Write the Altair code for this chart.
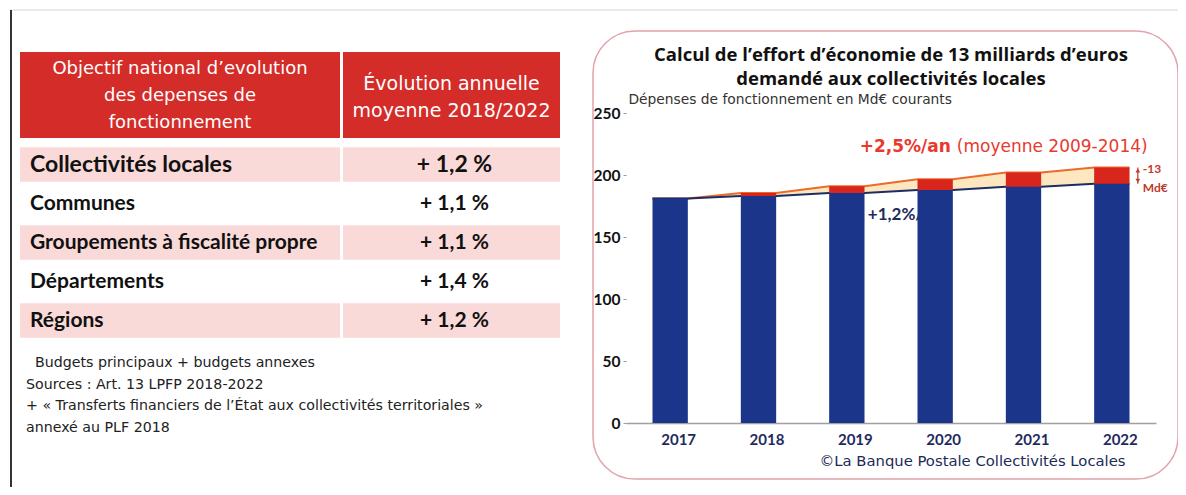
import altair as alt
import pandas as pd

# ---------------- data ----------------
years = [2017, 2018, 2019, 2020, 2021, 2022]
trend_12 = [181, 183, 185.5, 188, 190.5, 193]      # +1,2 %/an (blue bars)
trend_25 = [181, 185.5, 191, 196.5, 202, 206]      # +2,5 %/an (top of red part)
y_ticks = [0, 50, 100, 150, 200, 250]

table_rows = ["Collectivités locales", "Communes", "Groupements à fiscalité propre",
              "Départements", "Régions"]
table_values = ["+ 1,2 %", "+ 1,1 %", "+ 1,1 %", "+ 1,4 %", "+ 1,2 %"]
header_left = ["Objectif national d’evolution", "des depenses de", "fonctionnement"]
header_right = ["Évolution annuelle", "moyenne 2018/2022"]
notes = ["Budgets principaux + budgets annexes",
         "Sources : Art. 13 LPFP 2018-2022",
         "+ « Transferts financiers de l’État aux collectivités territoriales »",
         "annexé au PLF 2018"]

title_lines = ["Calcul de l’effort d’économie de 13 milliards d’euros",
               "demandé aux collectivités locales"]
y_title = "Dépenses de fonctionnement en Md€ courants"
source = "©La Banque Postale Collectivités Locales"
label_25_bold = "+2,5%/an"
label_25_rest = "(moyenne 2009-2014)"
label_12 = "+1,2%/an"
unit_label = "Md€"

# ---------------- layout / style ----------------
W, H = 530, 310
BAR_W = 0.4
FONT = "Lato"
WIDE = "DejaVu Sans"
NAVY = "#1b358a"
NAVY_LINE = "#1b2d63"
RED = "#d8261d"
ORANGE = "#ee6a2a"
CREAM = "#fde7c0"
ANN_RED = "#e8392e"
HEAD_RED = "#d42c28"
PINK = "#f9dad8"
FRAME = "#e4a2ab"

LBL_RANGE = [-606, -286]
VAL_RANGE = [-283, -66]
HEAD_RANGE = [-61, 25]
BODY_RANGE = [32, 227]
NOTES_RANGE = [250, 315]

bars = pd.DataFrame({"year": years, "blue": trend_12, "total": trend_25})
bars["x0"] = bars["year"] - BAR_W / 2
bars["x1"] = bars["year"] + BAR_W / 2
pts = pd.concat([bars.assign(x=bars["x0"]), bars.assign(x=bars["x1"])]).sort_values("x")
last = bars.tail(1)
y2019 = bars[bars["year"] == 2019]

xs = alt.Scale(domain=[2016.5, 2022.5], nice=False, zero=False)
ys = alt.Scale(domain=[0, 250], nice=False, zero=True)

x_axis = alt.Axis(values=years, format="d", labelFont=FONT, labelFontSize=15,
                  labelFontWeight="bold", labelColor="#1f2b5e", labelPadding=9,
                  labelOffset=8, ticks=False, domainColor="#a0a0a0", domainWidth=1.5,
                  grid=False, title=source, titleFont=WIDE, titleFontSize=14.8,
                  titleFontWeight="normal", titleColor="#1d2a55", titleX=346, titleY=38,
                  titleAlign="center", titleBaseline="middle")
y_axis = alt.Axis(values=y_ticks, labelFont=FONT, labelFontSize=15.5, labelFontWeight="bold",
                  labelColor="#111111", labelPadding=3, tickSize=3, tickColor="#999999",
                  domain=False, gridColor="#e0e0e0", title=y_title, titleAngle=0,
                  titleAlign="left", titleBaseline="middle", titleX=2, titleY=-14,
                  titleFont=WIDE, titleFontSize=13.8, titleFontWeight="normal",
                  titleColor="#333333")

dummy = pd.DataFrame({"k": [0]})

# decorations
frame = alt.Chart(dummy).mark_rect(fillOpacity=0, stroke=FRAME, strokeWidth=1.5,
                                   cornerRadius=42).encode(
    x=alt.value(-33), x2=alt.value(552), y=alt.value(-82), y2=alt.value(366))
left_border = alt.Chart(dummy).mark_rule(color="#333333", strokeWidth=2).encode(
    x=alt.value(-615), y=alt.value(-103), y2=alt.value(374))
top_border = alt.Chart(dummy).mark_rule(color="#d6d6d6", strokeWidth=1).encode(
    x=alt.value(-615), x2=alt.value(552), y=alt.value(-103))

title = alt.Chart(dummy).mark_text(font="Open Sans", fontSize=18.5, fontWeight="bold",
                                   color="#111111", lineHeight=24, align="center",
                                   baseline="middle").encode(
    x=alt.value(W / 2), y=alt.value(-58), text=alt.value(title_lines))

# chart layers
X = lambda f: alt.X(f, scale=xs, axis=None)
area = alt.Chart(pts).mark_area(color=CREAM).encode(
    x=X("x:Q"), y=alt.Y("blue:Q", scale=ys, axis=None), y2="total:Q")
line_top = alt.Chart(pts).mark_line(color=ORANGE, strokeWidth=2).encode(
    x=X("x:Q"), y=alt.Y("total:Q", scale=ys, axis=None))
line_bot = alt.Chart(pts).mark_line(color=NAVY_LINE, strokeWidth=2).encode(
    x=X("x:Q"), y=alt.Y("blue:Q", scale=ys, axis=None))
txt12 = alt.Chart(y2019).mark_text(font=FONT, fontSize=17, fontWeight="bold", color="#1d2b5e",
                                   align="left", baseline="middle", dx=21, dy=22).encode(
    x=X("year:Q"), y=alt.Y("blue:Q", scale=ys, axis=None), text=alt.value(label_12))
bar_blue = alt.Chart(bars).mark_rect(color=NAVY).encode(
    x=alt.X("x0:Q", scale=xs, axis=x_axis), x2="x1:Q",
    y=alt.Y("blue:Q", scale=ys, axis=y_axis), y2=alt.datum(0))
bar_red = alt.Chart(bars).transform_filter("datum.total > datum.blue").mark_rect(color=RED).encode(
    x=X("x0:Q"), x2="x1:Q", y=alt.Y("blue:Q", scale=ys, axis=None), y2="total:Q")

txt25a = alt.Chart(last).mark_text(font=WIDE, fontSize=17, fontWeight="bold", color=ANN_RED,
                                   align="right", baseline="middle", dx=-161, dy=-21).encode(
    x=X("year:Q"), y=alt.Y("total:Q", scale=ys, axis=None), text=alt.value(label_25_bold))
txt25b = alt.Chart(last).mark_text(font=WIDE, fontSize=17, color=ANN_RED,
                                   align="left", baseline="middle", dx=-155, dy=-21).encode(
    x=X("year:Q"), y=alt.Y("total:Q", scale=ys, axis=None), text=alt.value(label_25_rest))
gap_txt = alt.Chart(last).transform_calculate(
    t="'-' + format(datum.total - datum.blue, '.0f')").mark_text(
    font=FONT, fontSize=12, fontWeight="bold", color="#c0392b", align="left",
    baseline="middle", dx=31, dy=1).encode(
    x=X("year:Q"), y=alt.Y("total:Q", scale=ys, axis=None), text="t:N")
unit_txt = alt.Chart(last).mark_text(font=FONT, fontSize=12, fontWeight="bold", color="#c0392b",
                                     align="left", baseline="middle", dx=31, dy=4).encode(
    x=X("year:Q"), y=alt.Y("blue:Q", scale=ys, axis=None), text=alt.value(unit_label))
arrow = alt.Chart(last).mark_rule(color="#c0392b", strokeWidth=1.2, xOffset=26).encode(
    x=X("year:Q"), y=alt.Y("total:Q", scale=ys, axis=None), y2="blue:Q")
head_up = alt.Chart(last).mark_point(shape="triangle-up", filled=True, size=22, color="#c0392b",
                                     opacity=1, xOffset=26, yOffset=3).encode(
    x=X("year:Q"), y=alt.Y("total:Q", scale=ys, axis=None))
head_dn = alt.Chart(last).mark_point(shape="triangle-down", filled=True, size=22, color="#c0392b",
                                     opacity=1, xOffset=26, yOffset=-3).encode(
    x=X("year:Q"), y=alt.Y("blue:Q", scale=ys, axis=None))

# ---------------- table ----------------
rows = pd.DataFrame({"row": table_rows, "value": table_values, "i": range(len(table_rows)),
                     "lbl": "label", "val": "value"})
head = pd.DataFrame({"h": ["h"], "lbl": ["label"], "val": ["value"]})
notes_df = pd.DataFrame({"line": notes, "i": range(len(notes)), "lbl": "label"})


def colx(field, name, rng, pos=0.5):
    return alt.X(field, scale=alt.Scale(type="band", domain=[name], range=rng,
                                        paddingInner=0, paddingOuter=0),
                 axis=None, bandPosition=pos)


hy = alt.Y("h:N", scale=alt.Scale(type="band", domain=["h"], range=HEAD_RANGE,
                                  paddingInner=0, paddingOuter=0), axis=None)
by = alt.Y("row:N", scale=alt.Scale(type="band", domain=table_rows, range=BODY_RANGE,
                                    paddingInner=0.12, paddingOuter=0.06), axis=None)
ny = alt.Y("line:N", scale=alt.Scale(type="point", domain=notes, range=NOTES_RANGE,
                                     padding=0), axis=None)

head_l = alt.Chart(head).mark_rect(color=HEAD_RED).encode(
    x=colx("lbl:N", "label", LBL_RANGE), y=hy)
head_r = alt.Chart(head).mark_rect(color=HEAD_RED).encode(
    x=colx("val:N", "value", VAL_RANGE), y=hy)
head_lt = alt.Chart(head).mark_text(font=WIDE, fontSize=18, color="white",
                                    lineHeight=27, baseline="middle", align="center",
                                    dy=-26).encode(
    x=colx("lbl:N", "label", LBL_RANGE), y=hy, text=alt.value(header_left))
head_rt = alt.Chart(head).mark_text(font=WIDE, fontSize=19, color="white",
                                    lineHeight=27, baseline="middle", align="center",
                                    dy=-11).encode(
    x=colx("val:N", "value", VAL_RANGE), y=hy, text=alt.value(header_right))

pink_l = alt.Chart(rows).transform_filter("datum.i % 2 == 0").mark_rect(color=PINK).encode(
    x=colx("lbl:N", "label", LBL_RANGE), y=by)
pink_r = alt.Chart(rows).transform_filter("datum.i % 2 == 0").mark_rect(color=PINK).encode(
    x=colx("val:N", "value", VAL_RANGE), y=by)
size_cond = alt.condition("datum.i == 0", alt.value(23), alt.value(21))
row_lt = alt.Chart(rows).mark_text(font=FONT, fontWeight="bold", color="#111111",
                                   align="left", baseline="middle", dx=10).encode(
    x=colx("lbl:N", "label", LBL_RANGE, 0), y=by, text="row:N", size=size_cond)
row_rt = alt.Chart(rows).mark_text(font=FONT, fontWeight="bold", color="#111111",
                                   align="center", baseline="middle", dx=3).encode(
    x=colx("val:N", "value", VAL_RANGE), y=by, text="value:N", size=size_cond)
note_1 = alt.Chart(notes_df).transform_filter("datum.i == 0").mark_text(
    font=WIDE, fontSize=14.2, color="#222222", align="left", baseline="middle", dx=15).encode(
    x=colx("lbl:N", "label", LBL_RANGE, 0), y=ny, text="line:N")
note_r = alt.Chart(notes_df).transform_filter("datum.i > 0").mark_text(
    font=WIDE, fontSize=14.2, color="#222222", align="left", baseline="middle", dx=6).encode(
    x=colx("lbl:N", "label", LBL_RANGE, 0), y=ny, text="line:N")

chart = alt.layer(
    top_border, left_border, frame, title,
    area, line_top, line_bot, txt12, bar_blue, bar_red,
    txt25a, txt25b, gap_txt, unit_txt, arrow, head_up, head_dn,
    head_l, head_r, head_lt, head_rt, pink_l, pink_r, row_lt, row_rt, note_1, note_r,
).resolve_scale(x="independent", y="independent").properties(
    width=W, height=H,
    autosize=alt.AutoSizeParams(type="none"),
    padding={"left": 618, "top": 105, "right": 22, "bottom": 64},
    background="white",
).configure_view(strokeWidth=0)

chart.save("out.html", embed_options={"renderer": "svg", "actions": False})
